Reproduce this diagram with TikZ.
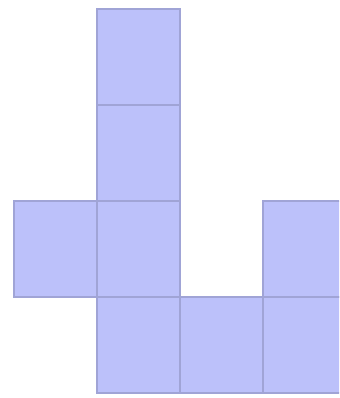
\documentclass[tikz,border=0pt]{standalone}
\usepackage{tikz}
\definecolor{celledge}{RGB}{160,164,214}
\definecolor{cellfill}{RGB}{188,193,250}

\begin{document}
\begin{tikzpicture}[x=0.83cm, y=0.96cm,
    cell/.style={draw=celledge, fill=cellfill, line width=0.6pt}]
    % Frame
    \clip (-0.169, -0.052) rectangle (3.916, 4.094);
    % Column of four
    \foreach \r in {0,1,2,3} {
        \draw[cell] (1, \r) rectangle ++(1, 1);
    }
    % Side cells
    \draw[cell] (0, 1) rectangle ++(1, 1);
    \draw[cell] (2, 0) rectangle ++(1, 1);
    \draw[cell] (3, 0) rectangle ++(1, 1);
    \draw[cell] (3, 1) rectangle ++(1, 1);
\end{tikzpicture}
\end{document}
